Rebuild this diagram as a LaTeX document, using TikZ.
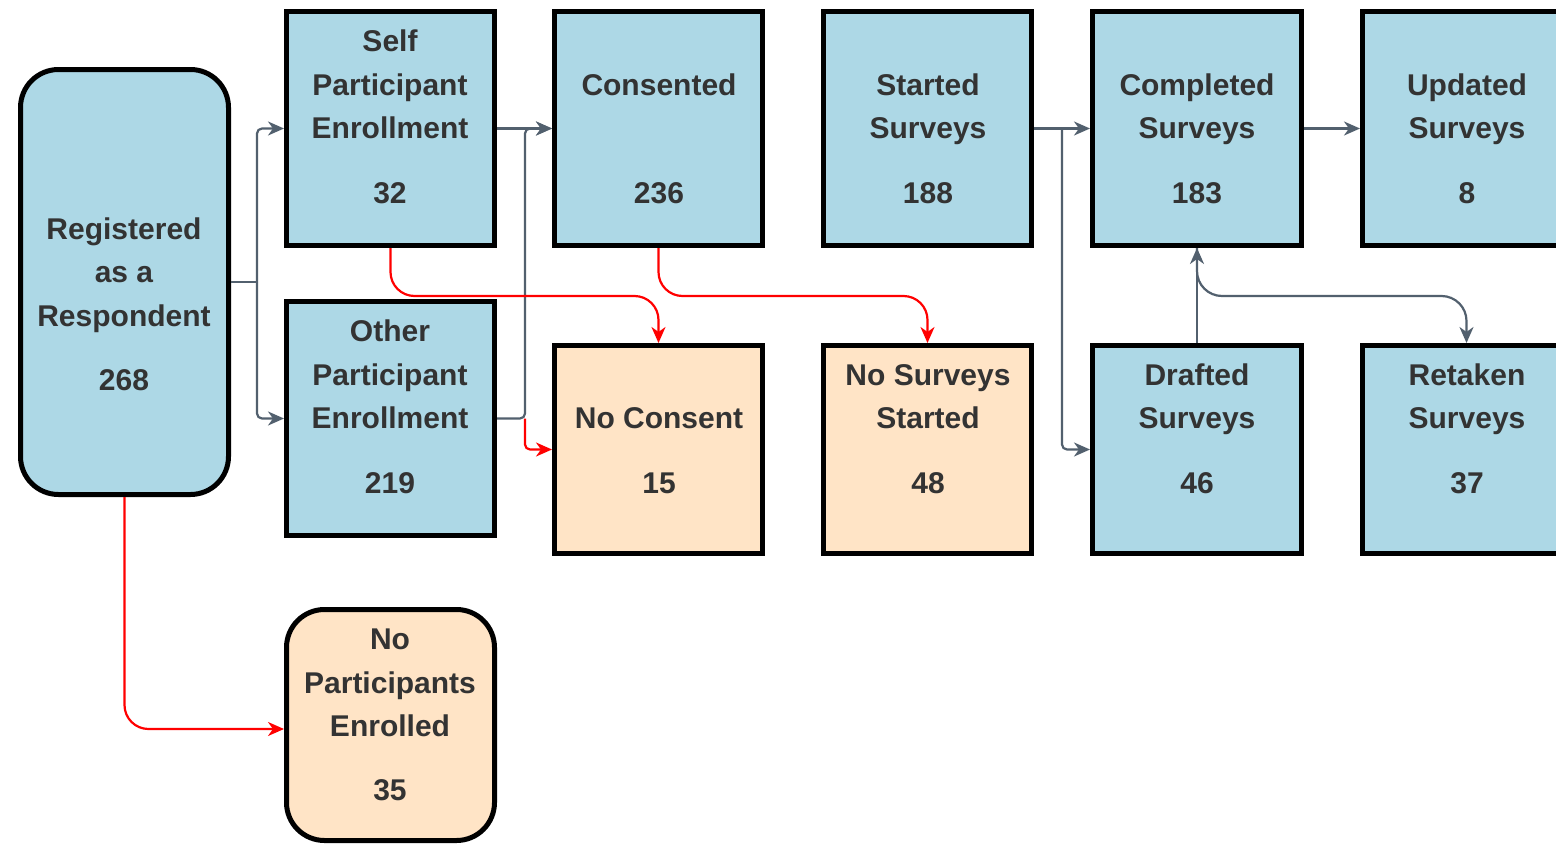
\documentclass[tikz,border=0pt]{standalone}
\usepackage{fontspec}
\setmainfont{Liberation Sans}
\usetikzlibrary{arrows.meta}
\definecolor{boxblue}{HTML}{ADD8E6}
\definecolor{boxpeach}{HTML}{FFE4C6}
\definecolor{edgegray}{HTML}{52606E}
\definecolor{txtgray}{HTML}{333333}
\definecolor{edgered}{HTML}{FF0000}
\tikzset{
  bluebox/.style={draw=black, line width=5pt, fill=boxblue, inner sep=0pt, minimum width=208pt},
  peachbox/.style={draw=black, line width=5pt, fill=boxpeach, inner sep=0pt, minimum width=208pt},
  roundbox/.style={rounded corners=38pt},
  txt/.style={anchor=base, inner sep=0pt, text=txtgray, font=\fontsize{30pt}{36pt}\selectfont\bfseries},
  garrow/.style={draw=edgegray, line width=2.2pt, rounded corners=5pt, -{Stealth[length=16pt,width=14pt,inset=5pt]}},
  gline/.style={draw=edgegray, line width=2.2pt, rounded corners=5pt},
  rarrow/.style={draw=edgered, line width=2.2pt, rounded corners=24pt, -{Stealth[length=16pt,width=14pt,inset=5pt]}},
}
\begin{document}
\begin{tikzpicture}[x=1pt,y=-1pt]
\useasboundingbox (0,0) rectangle (1556,846);
\fill[white] (0,0) rectangle (1556,846);
\clip (0,0) rectangle (1556,846);

% boxes
\node[bluebox, roundbox, minimum height=425pt] (reg) at (124.5,282) {};
\node[bluebox, minimum height=234pt] (self) at (390.5,128.5) {};
\node[bluebox, minimum height=234pt] (oth) at (390.5,418.5) {};
\node[bluebox, minimum height=234pt] (cons) at (658.5,128.5) {};
\node[bluebox, minimum height=234pt] (st) at (927.5,128.5) {};
\node[bluebox, minimum height=234pt, minimum width=209pt] (comp) at (1197,128.5) {};
\node[bluebox, minimum height=234pt] (upd) at (1466.5,128.5) {};
\node[peachbox, minimum height=208pt] (nc) at (658.5,449.5) {};
\node[peachbox, minimum height=208pt] (ns) at (927.5,449.5) {};
\node[bluebox, minimum height=208pt, minimum width=209pt] (dr) at (1197,449.5) {};
\node[bluebox, minimum height=208pt] (rt) at (1466.5,449.5) {};
\node[peachbox, roundbox, minimum height=231pt] (np) at (390.5,725) {};

% texts
\node[txt] (reg1) at (124,239.5) {Registered};
\node[txt] (reg2) at (124,282.5) {as a};
\node[txt] (reg3) at (124,326.5) {Respondent};
\node[txt] (reg4) at (124,390.5) {268};

\node[txt] (self1) at (390,51.5) {Self};
\node[txt] (self2) at (390,95.5) {Participant};
\node[txt] (self3) at (390,138.5) {Enrollment};
\node[txt] (self4) at (390,203.5) {32};

\node[txt] (oth1) at (390,341.5) {Other};
\node[txt] (oth2) at (390,385.5) {Participant};
\node[txt] (oth3) at (390,428.5) {Enrollment};
\node[txt] (oth4) at (390,493.5) {219};

\node[txt] (cons1) at (659,95.5) {Consented};
\node[txt] (cons2) at (659,203.5) {236};

\node[txt] (st1) at (928,95.5) {Started};
\node[txt] (st2) at (928,138.5) {Surveys};
\node[txt] (st3) at (928,203.5) {188};

\node[txt] (comp1) at (1197,95.5) {Completed};
\node[txt] (comp2) at (1197,138.5) {Surveys};
\node[txt] (comp3) at (1197,203.5) {183};

\node[txt] (upd1) at (1467,95.5) {Updated};
\node[txt] (upd2) at (1467,138.5) {Surveys};
\node[txt] (upd3) at (1467,203.5) {8};

\node[txt] (nc1) at (659,428.5) {No Consent};
\node[txt] (nc2) at (659,493.5) {15};

\node[txt] (ns1) at (928,385.5) {No Surveys};
\node[txt] (ns2) at (928,428.5) {Started};
\node[txt] (ns3) at (928,493.5) {48};

\node[txt] (dr1) at (1197,385.5) {Drafted};
\node[txt] (dr2) at (1197,428.5) {Surveys};
\node[txt] (dr3) at (1197,493.5) {46};

\node[txt] (rt1) at (1467,385.5) {Retaken};
\node[txt] (rt2) at (1467,428.5) {Surveys};
\node[txt] (rt3) at (1467,493.5) {37};

\node[txt] (np1) at (390,649.5) {No};
\node[txt] (np2) at (390,693.5) {Participants};
\node[txt] (np3) at (390,736.5) {Enrolled};
\node[txt] (np4) at (390,800.5) {35};

% junctions
\coordinate (jr) at (257,282);
\coordinate (jo) at (525,418.5);
\coordinate (js) at (1062,128.5);
\coordinate (midrow) at (0,296);

% gray connectors
\draw[gline] (reg.east) -- (jr);
\draw[garrow] (jr) |- (self.west);
\draw[garrow] (jr) |- (oth.west);
\draw[garrow] (self.east) -- (cons.west);
\draw[garrow] (oth.east) -- (jo) |- (cons.west);
\draw[garrow] (st.east) -- (comp.west);
\draw[garrow] (js) |- (dr.west);
\draw[garrow] (comp.east) -- (upd.west);
\draw[garrow] (dr.north) -- (comp.south);
\draw[garrow, rounded corners=25pt] (comp.south) |- (midrow -| rt.north) -- (rt.north);

% red connectors
\draw[rarrow, rounded corners=5pt] (jo) |- (nc.west);
\draw[rarrow] (self.south) |- (midrow -| nc.north) -- (nc.north);
\draw[rarrow] (cons.south) |- (midrow -| ns.north) -- (ns.north);
\draw[rarrow] (reg.south) |- ([yshift=-4pt]np.west);
\end{tikzpicture}
\end{document}
